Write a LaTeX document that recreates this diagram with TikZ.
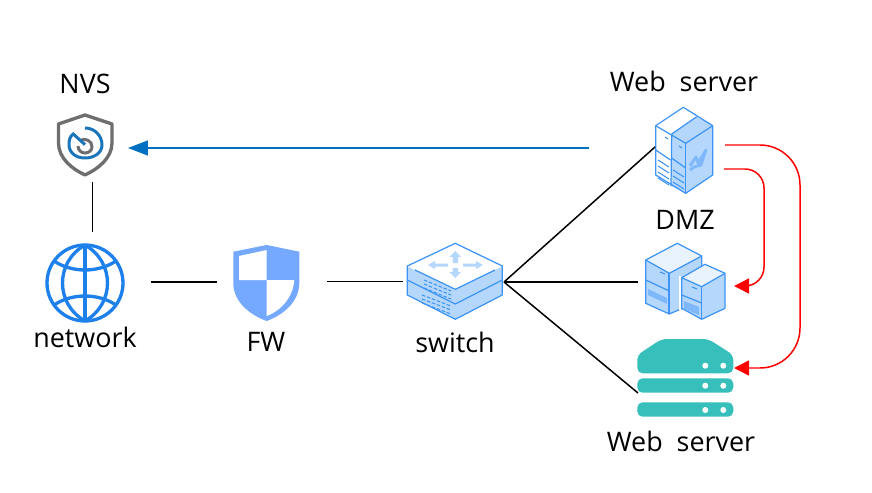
\documentclass[tikz,border=0pt]{standalone}
\usepackage{fontspec}
\setmainfont{Open Sans}
\usepackage{tikz}
\usetikzlibrary{arrows.meta}

\definecolor{nvsblue}{HTML}{1B75BB}
\definecolor{nvsgray}{HTML}{6E6E6E}
\definecolor{globeblue}{HTML}{1E80EA}
\definecolor{fwblue}{HTML}{74A9FF}
\definecolor{iconblue}{HTML}{3D94F6}
\definecolor{iconfill}{HTML}{B5D7FC}
\definecolor{iconmid}{HTML}{7FB8FA}
\definecolor{tealsrv}{HTML}{36BFBB}
\definecolor{linkblue}{HTML}{0070C0}

\tikzset{
	lbl/.style={font=\fontsize{15.3}{17}\selectfont, inner sep=0pt},
	link/.style={black, line width=.85pt},
	redlink/.style={red, line width=.85pt, -{Triangle[length=.3cm,width=.3cm]}},
	iconedge/.style={draw=iconblue, line width=.7pt, line join=round},
	vent/.style={iconblue, line width=.6pt},
}

\begin{document}
\begin{tikzpicture}[x=.02cm,y=-.02cm]
	\useasboundingbox (0,0) rectangle (872,493);

	% labels
	\node[lbl] (nvslabel)  at (85,84)  {NVS};
	\node[lbl] (netlabel)  at (85,337) {network};
	\node[lbl] (fwlabel)   at (266,342) {FW};
	\node[lbl] (swlabel)   at (455,342) {switch};
	\node[lbl] (weblabel)  at (684,81) {Web\ \ server};
	\node[lbl] (dmzlabel)  at (685,220) {DMZ};
	\node[lbl] (srvlabel)  at (681,441) {Web\ \ server};

	% NVS shield
	\draw[nvsgray, line width=1.9pt, line join=round] (85,115) -- (58.5,124) -- (58.5,143)
		.. controls (58.5,158) and (72,169) .. (85,175)
		.. controls (98,169) and (112,158) .. (112,143) -- (112,124) -- cycle;
	\draw[nvsgray, line width=1.7pt] (81,140)
		.. controls (86,138) and (92,141) .. (92,147)
		.. controls (92,151) and (88,153) .. (85,153)
		.. controls (81,153) and (78,150) .. (78,146);
	\draw[nvsblue, line width=1.7pt] (85,128)
		.. controls (95,128) and (102,136) .. (102,145)
		.. controls (102,153) and (94,158) .. (85,158)
		.. controls (75,158) and (69,152) .. (69,144.7)
		.. controls (69,140) and (70,136) .. (73.3,134) -- (85,144.7);

	% globe
	\begin{scope}[globeblue, line width=1.9pt]
		\draw (85,283) circle (38);
		\draw (85,245) -- (85,321);
		\draw (85,245) .. controls (55,262) and (55,304) .. (85,321);
		\draw (85,245) .. controls (115,262) and (115,304) .. (85,321);
		\draw (54,261) .. controls (72,273) and (98,273) .. (116,261);
		\draw (54,305) .. controls (72,293) and (98,293) .. (116,305);
	\end{scope}

	% FW shield
	\fill[fwblue] (266.7,245) -- (233.3,251.7) -- (233.3,283)
		.. controls (233.3,302) and (250,315) .. (266.7,321)
		.. controls (283,315) and (299.3,302) .. (299.3,283) -- (299.3,251.7) -- cycle;
	\fill[white] (239,256) -- (266.7,250) -- (266.7,280) -- (239,280) -- cycle;
	\fill[white] (266.7,280) -- (294.3,280)
		.. controls (293,297) and (282,310) .. (266.7,316) -- cycle;

	% switch
	\fill[iconfill] (407.3,266) -- (455.3,243.3) -- (502.3,266) -- (502.3,295) -- (455.3,319.3) -- (407.3,295) -- cycle;
	\fill[white] (415,270) -- (407.3,266) -- (455.3,243.3) -- (502.3,266) -- (495,270) -- (455.3,289.3) -- cycle;
	\draw[iconedge] (407.3,266) -- (455.3,243.3) -- (502.3,266) -- (502.3,295) -- (455.3,319.3) -- (407.3,295) -- cycle;
	\draw[iconedge] (407.3,280) -- (455.3,304) -- (502.3,280);
	\draw[iconedge] (415,270) -- (455.3,289.3) -- (495,270);
	\fill[iconfill] (455.3,251) -- (461,257) -- (458,257) -- (458,263) -- (452.5,263) -- (452.5,257) -- (449.5,257) -- cycle;
	\fill[iconfill] (455.3,278) -- (461,272) -- (458,272) -- (458,268) -- (452.5,268) -- (452.5,272) -- (449.5,272) -- cycle;
	\fill[iconfill] (428,265) -- (435,261) -- (435,263.5) -- (448,263.5) -- (448,266.5) -- (435,266.5) -- (435,269) -- cycle;
	\fill[iconfill] (483,265) -- (476,261) -- (476,263.5) -- (463,263.5) -- (463,266.5) -- (476,266.5) -- (476,269) -- cycle;
	\foreach \dy in {0,4,8}
		\draw[vent, dash pattern=on 2pt off 1pt] (424,280+\dy) -- (451,291+\dy);
	\foreach \dy in {0,4,8}
		\draw[vent, dash pattern=on 2pt off 1pt] (422,295+\dy) -- (451,306+\dy);

	% web server (top)
	\fill[iconfill] (671.7,134) -- (696.7,116.7) -- (712.7,125.7) -- (712.7,175) -- (685.7,193.3) -- (671,186) -- cycle;
	\draw[iconedge] (683.3,107.3) -- (655.7,125.7) -- (655.7,175) -- (685.7,193.3) -- (712.7,175) -- (712.7,125.7) -- cycle;
	\draw[iconedge] (655.7,125.7) -- (685.7,143.3) -- (712.7,125.7);
	\draw[iconedge] (671.7,134) -- (696.7,116.7);
	\draw[iconedge] (671.7,134) -- (671,186);
	\draw[iconedge] (685.7,143.3) -- (685.7,193.3);
	\draw[iconedge] (655.7,150) -- (670.5,160);
	\draw[iconedge] (671.5,158) -- (685.7,168);
	\foreach \dy in {0,6,12,18}
		\draw[vent] (658,160+\dy) -- (669,167+\dy);
	\foreach \dy in {0,6,12}
		\draw[vent] (673,170+\dy) -- (684,177+\dy);
	\draw[vent] (665,137) -- (668,139);
	\draw[vent] (679,146) -- (682,148);
	\draw[iconmid, line width=1.6pt, line join=round] (690,166) -- (696,157) -- (698,163) -- (706,150) -- (701,165) -- (694,167) -- (690,170);

	% DMZ servers
	\fill[iconfill] (677.3,243.3) -- (645.7,260) -- (645.7,303.3) -- (669.3,314) -- (701.7,300) -- (701.7,256) -- cycle;
	\fill[white!70!iconfill] (677.3,243.3) -- (645.7,260) -- (669.3,273.3) -- (701.7,256) -- cycle;
	\draw[iconedge] (677.3,243.3) -- (645.7,260) -- (645.7,303.3) -- (669.3,314) -- (701.7,300) -- (701.7,256) -- cycle;
	\draw[iconedge] (645.7,260) -- (669.3,273.3) -- (701.7,256);
	\draw[iconedge, line width=1.1pt] (669.3,273.3) -- (669.3,314);
	\draw[iconedge] (645.7,280) -- (669.3,291);
	\fill[iconmid] (648,289) -- (667,298) -- (667,304) -- (648,295) -- cycle;
	\draw[vent] (660,272) -- (665,274);
	\fill[iconfill] (705,264.3) -- (681.7,277.7) -- (681.7,308.3) -- (701.7,319.3) -- (725,308.3) -- (725,273.3) -- cycle;
	\fill[white!70!iconfill] (705,264.3) -- (681.7,277.7) -- (701.7,286.7) -- (725,273.3) -- cycle;
	\draw[iconedge, draw=white] (680,276) -- (680,310);
	\draw[iconedge] (705,264.3) -- (681.7,277.7) -- (681.7,308.3) -- (701.7,319.3) -- (725,308.3) -- (725,273.3) -- cycle;
	\draw[iconedge] (681.7,277.7) -- (701.7,286.7) -- (725,273.3);
	\draw[iconedge] (701.7,286.7) -- (701.7,319.3);
	\draw[iconedge] (681.7,295) -- (701.7,303);
	\fill[iconmid] (684,301) -- (699,307) -- (699,315) -- (684,309) -- cycle;
	\draw[vent] (692,287) -- (697,289);

	% teal server
	\fill[tealsrv, rounded corners=3pt] (637.3,373.3) -- (637.3,355) -- (661.7,339) -- (708.3,339) -- (733.3,355) -- (733.3,373.3) -- cycle;
	\fill[tealsrv, rounded corners=3pt] (637.3,378.3) rectangle (733.3,392.7);
	\fill[tealsrv, rounded corners=3pt] (637.3,402.3) rectangle (733.3,416.7);
	\foreach \ypos in {365.7,385.7,410}
		\foreach \xpos in {705.3,723.3}
			\fill[white] (\xpos,\ypos) circle (3);

	% line ends
	\coordinate (nvsS) at (92.3,182);
	\coordinate (netN) at (92.3,232);
	\coordinate (netE) at (151,282);
	\coordinate (fwW) at (217,282);
	\coordinate (fwE) at (327,281.7);
	\coordinate (swW) at (402.7,281.7);
	\coordinate (swE) at (504,282);
	\coordinate (webW) at (655,147);
	\coordinate (dmzW) at (638,282);
	\coordinate (srvW) at (638,393);
	\coordinate (blueA) at (589,148);
	\coordinate (blueB) at (128,148);
	\coordinate (outA) at (725,145);
	\coordinate (turnA) at (800,368);
	\coordinate (srvE) at (734,368);
	\coordinate (outB) at (724,169);
	\coordinate (turnB) at (764,286);
	\coordinate (dmzE) at (734,286);

	% connectors
	\draw[link] (nvsS) -- (netN);
	\draw[link] (netE) -- (fwW);
	\draw[link] (fwE) -- (swW);
	\draw[link] (swE) -- (webW);
	\draw[link] (swE) -- (dmzW);
	\draw[link] (swE) -- (srvW);
	\draw[linkblue, line width=.85pt, -{Triangle[length=.4cm,width=.3cm]}] (blueA) -- (blueB);
	\draw[redlink, rounded corners=.8cm] (outA) -| (turnA) -- (srvE);
	\draw[redlink, rounded corners=.38cm] (outB) -| (turnB) -- (dmzE);
\end{tikzpicture}
\end{document}
